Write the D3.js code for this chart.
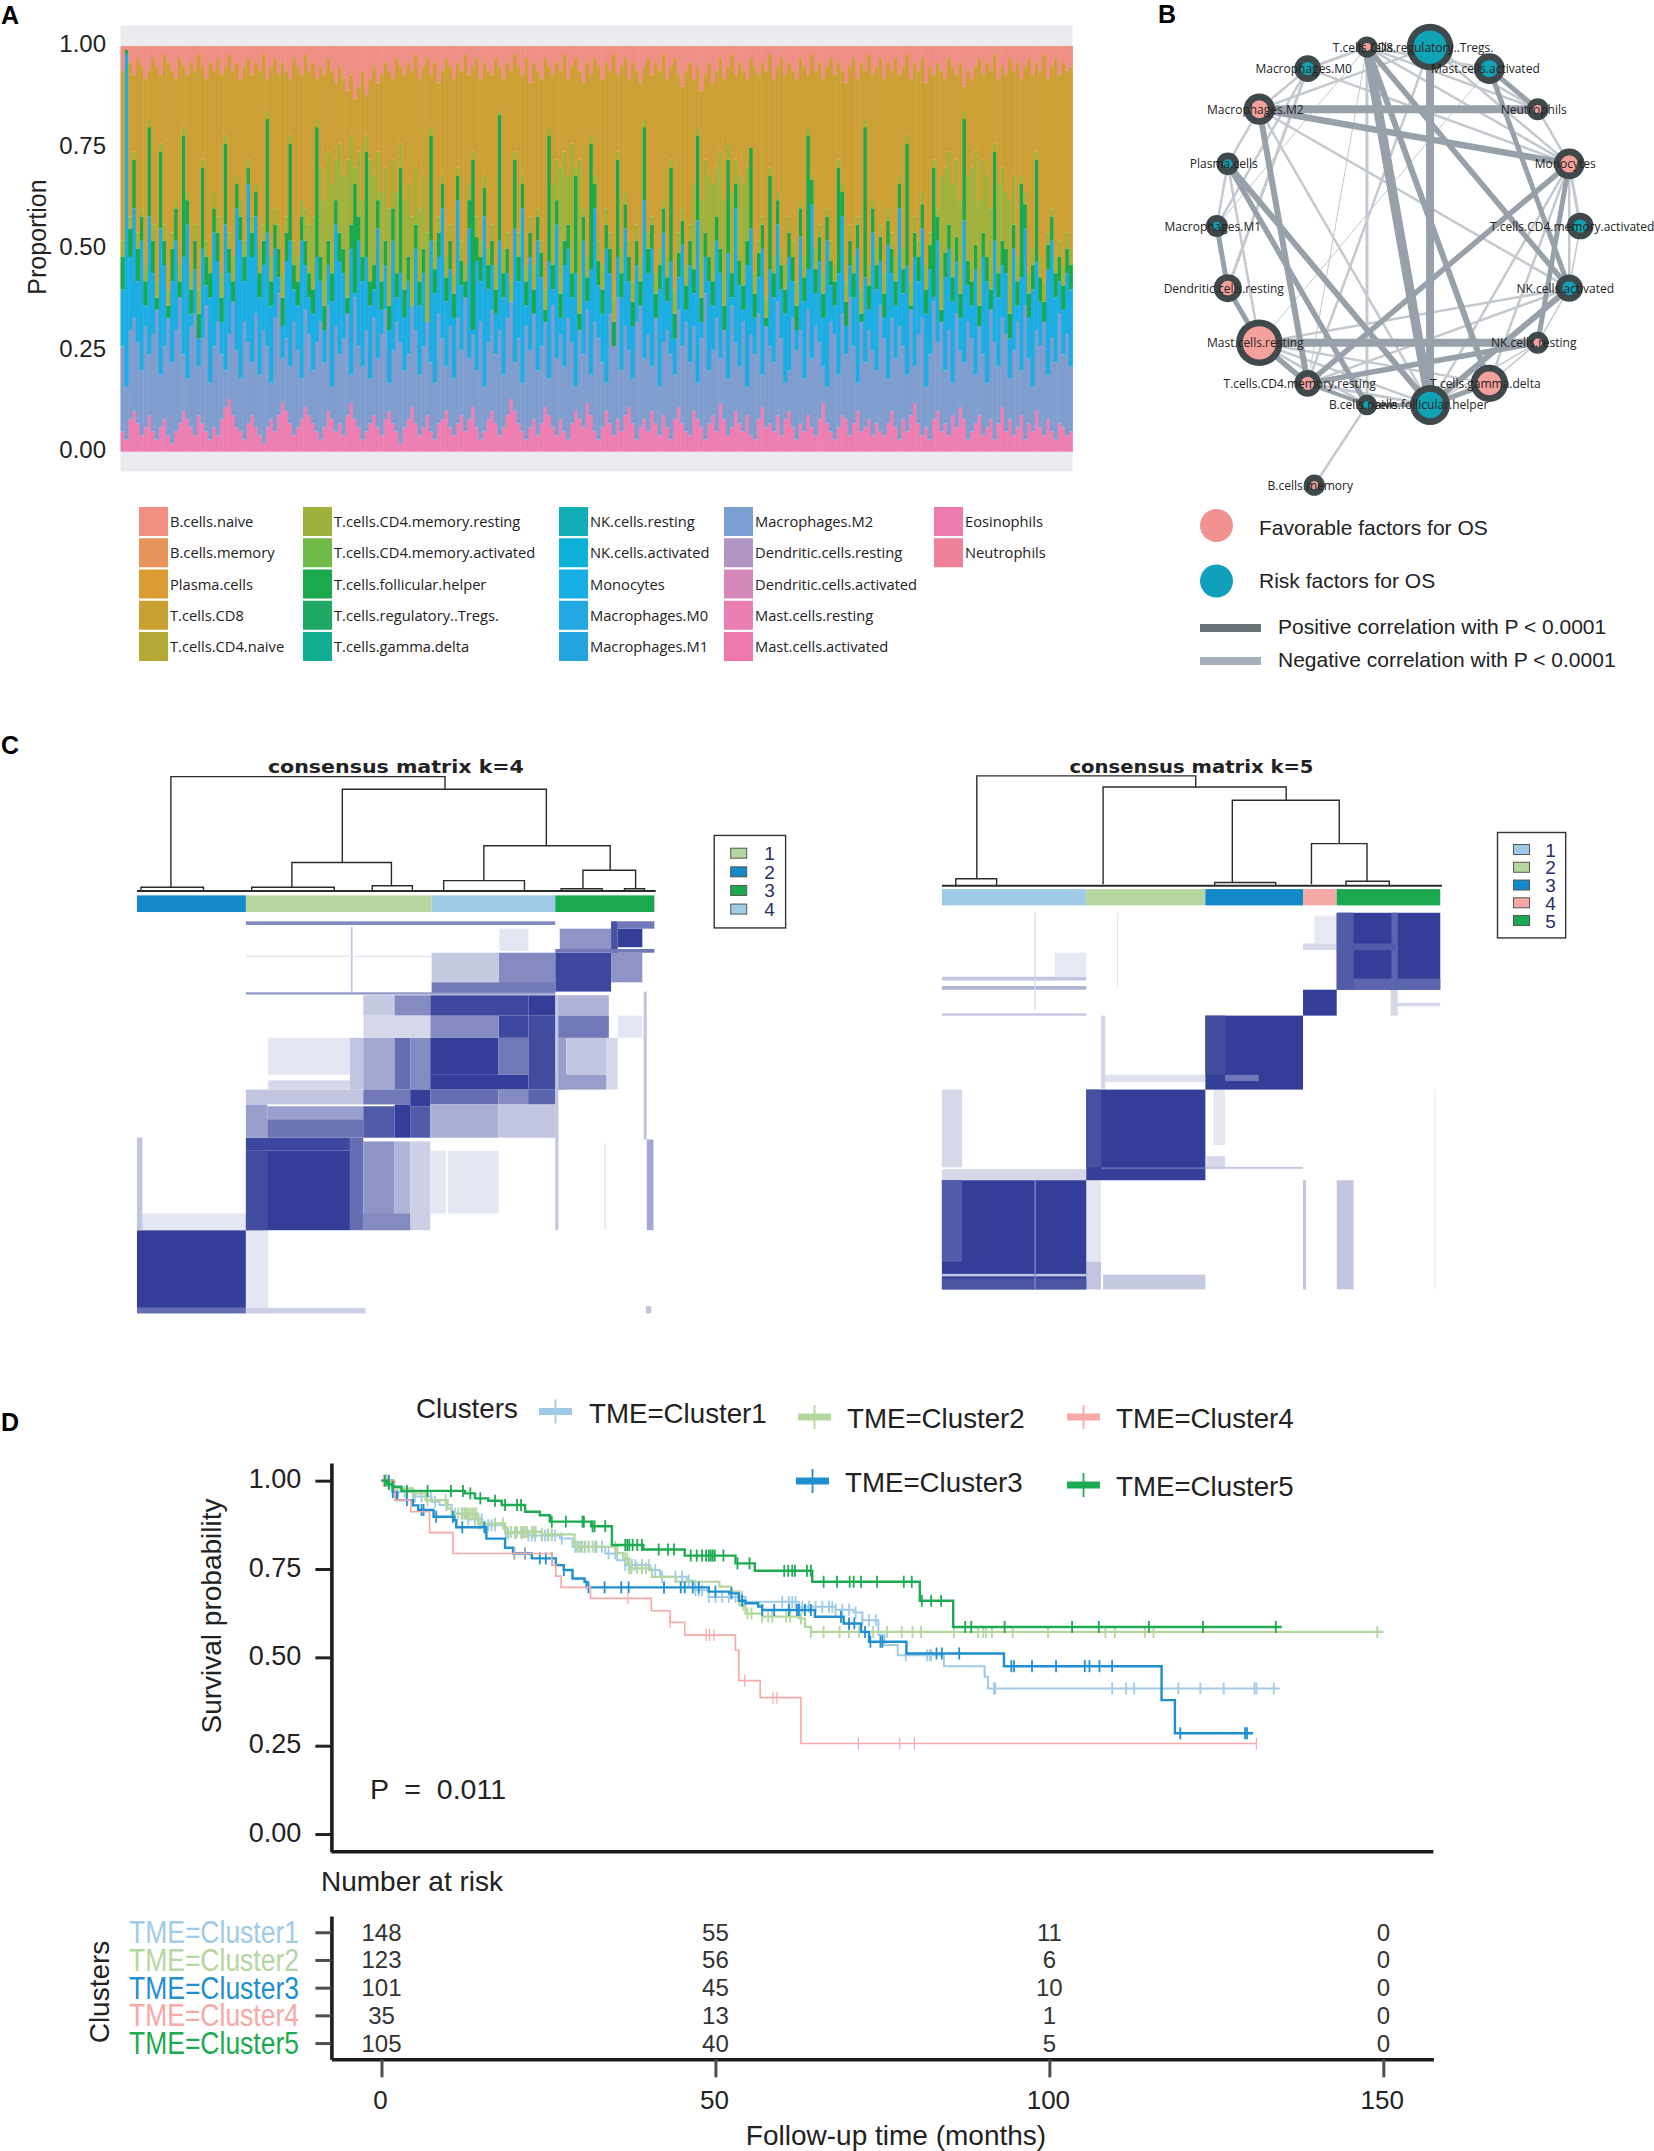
<!DOCTYPE html>
<html>
<head>
<meta charset="utf-8">
<script src="https://cdnjs.cloudflare.com/ajax/libs/d3/7.8.5/d3.min.js"></script>
<style>
body { margin: 0; background: #fff; }
text { font-family: "Liberation Sans", Arial, sans-serif; }
</style>
</head>
<body>
<div id="fig"></div>
<script>
// ---------- panel A: top edge of each colour group per sample (percent)
var topMast = [5,3,8,10,7,4,6,9,5,3,6,8,4,2,5,7,10,8,6,4,9,7,5,3,6,
4,8,11,13,9,6,5,3,7,9,6,4,2,6,8,5,9,12,10,7,4,6,8,11,9,
7,5,3,6,10,8,5,7,4,9,12,8,6,3,5,7,9,6,4,8,10,7,5,2,6,
8,11,7,4,6,9,5,3,7,8,10,6,4,7,9,5,8,11,6,3,5,8,10,7,4,
6,9,13,10,7,5,3,6,8,4,7,11,9,6,4,8,5,3,7,10,8,6,12,9,5,
3,6,10,7,4,8,5,9,11,7,3,6,8,5,10,7,4,9,6,3,8,11,7,5,4,
10,8,6,3,7,9,5,12,8,4,6,10,7,5,9,4,3,8,11,6,7,5,9,4,8,
10,6,3,7,5,9,6,4,8,12,7,5,3,6,9,8,4,7,10,5,6,8,4,7,5,
4,7,10,6,3,8,5,9,12,7,4,6,3,8,10,5,7,4,9,6,11,8,3,5,7,
9,4,6,8,3,7,11,5,8,4,6,9,3,7,5,10,6,4,8,5,3,7,6,4,5];
var topM2 = [26,16,30,33,27,20,31,24,29,35,19,26,33,22,30,38,24,18,31,34,21,28,36,17,26,
32,24,20,29,37,25,18,32,27,22,34,19,30,26,17,33,39,23,28,21,32,25,18,35,29,
20,27,32,22,36,16,31,24,28,34,19,38,26,21,30,18,33,23,29,35,17,25,32,27,20,
24,36,30,19,26,32,22,17,34,28,21,31,18,33,25,38,23,29,20,32,16,27,35,24,30,
19,33,37,22,28,17,31,25,34,20,26,32,18,36,23,29,21,33,27,16,30,24,35,19,32,
28,22,17,34,26,38,20,31,25,18,32,36,23,29,21,33,16,27,30,24,19,35,26,32,22,
31,17,28,39,20,25,33,23,30,18,36,27,21,32,16,29,24,34,19,31,26,22,37,28,17,
20,33,25,30,18,35,23,31,27,21,16,32,29,19,34,24,38,26,17,32,22,30,25,20,36,
28,18,33,23,31,26,19,35,21,29,33,16,24,37,27,32,20,30,17,34,25,22,32,28,19,
31,24,17,35,27,21,33,29,18,25,32,20,36,23,16,30,26,32,19,28,22,34,24,29,21];
var topBlue = [40,98,48,60,42,52,36,58,44,33,55,46,30,42,52,36,48,56,34,45,28,50,41,38,54,
47,32,56,44,36,60,52,42,66,48,58,38,46,54,36,50,43,31,47,52,40,36,52,46,38,
34,48,42,30,46,37,56,47,44,33,50,39,52,42,48,36,40,55,35,46,30,52,38,44,33,
42,28,50,36,44,24,52,39,48,60,37,45,33,62,41,36,55,30,47,42,58,40,46,34,52,
38,44,30,55,42,60,36,48,34,52,43,29,47,40,56,33,46,50,38,44,28,52,37,45,60,
41,34,50,44,26,48,38,55,42,31,46,36,62,44,50,33,40,54,37,47,28,43,51,35,46,
39,57,32,48,42,36,52,44,30,49,38,60,41,35,46,55,33,43,50,27,45,38,56,40,34,
48,42,30,53,37,45,61,39,47,33,52,41,36,44,58,31,46,38,50,28,43,35,54,40,47,
33,51,44,36,60,39,46,30,48,42,55,34,45,38,52,29,43,50,37,47,33,57,41,36,45,
30,48,42,34,52,38,46,44,28,50,36,43,55,33,40,47,37,31,45,52,38,42,35,44,40];
var topGreen = [48,99,55,72,50,58,42,80,52,38,74,52,36,50,60,42,78,62,40,52,34,70,48,44,60,
54,38,76,50,42,66,58,48,70,54,64,44,52,82,42,56,50,38,54,76,46,42,58,52,44,
40,80,48,36,52,44,62,54,50,38,56,66,58,48,74,42,46,62,42,52,36,60,44,70,40,
48,34,56,42,50,30,78,45,54,66,43,52,39,68,47,42,62,72,53,48,65,46,52,40,83,
44,50,36,72,48,66,42,54,40,58,49,35,78,46,62,39,52,56,44,68,34,58,43,76,66,
47,40,56,50,32,72,44,61,48,37,52,42,80,50,56,39,46,60,43,70,34,49,57,41,52,
45,78,38,54,48,42,58,50,36,72,44,66,47,41,52,75,39,49,56,33,68,44,62,46,40,
54,48,36,60,43,78,67,45,53,39,58,47,42,70,64,37,52,44,56,34,80,41,60,46,53,
39,57,50,42,66,45,76,36,54,48,61,40,51,70,58,35,49,56,43,53,39,82,47,42,51,
36,54,48,40,74,44,52,50,34,56,42,66,61,39,46,72,43,37,51,58,44,48,41,50,46];
var topOlive = [52,99,58,74,54,60,46,82,56,42,76,56,40,54,62,46,80,64,44,56,40,72,52,48,64,
58,44,78,54,48,68,62,52,72,58,66,50,56,84,48,60,56,44,58,78,52,48,62,60,56,
58,82,70,62,74,66,72,76,68,72,78,70,74,62,78,72,68,74,64,70,60,72,64,76,62,
66,58,70,60,68,54,80,52,58,68,48,56,44,70,52,46,66,74,58,52,68,50,56,46,84,
50,54,42,74,54,68,46,58,46,60,52,40,80,66,72,70,74,68,76,70,72,60,48,78,68,
52,46,60,54,38,74,50,64,52,42,56,48,82,54,58,44,50,62,48,72,40,54,60,46,56,
66,80,62,72,68,66,70,74,62,76,64,72,68,66,70,54,44,52,58,38,70,48,64,50,46,
58,52,42,62,48,80,68,50,56,44,60,52,46,72,66,42,56,48,58,40,82,46,62,50,56,
44,60,54,48,68,50,78,42,58,52,64,46,54,72,60,68,70,74,66,72,62,84,68,70,74,
62,72,68,60,76,66,70,64,62,68,48,68,64,44,50,74,48,42,54,60,48,52,46,54,50];
var topGold = [94,99,96,93,97,95,92,94,97,95,93,98,96,94,92,97,95,93,96,94,98,95,92,96,94,
97,93,95,98,94,96,92,95,97,93,96,94,98,92,95,97,93,96,94,92,97,95,93,98,94,
96,92,95,93,97,94,91,95,92,89,93,87,90,94,88,92,95,91,93,96,94,92,97,95,93,
96,94,98,92,95,97,93,96,91,94,97,95,92,96,94,98,93,95,97,92,96,94,93,97,95,
92,96,94,98,95,93,97,91,96,94,92,97,95,93,96,94,98,92,95,97,94,91,96,93,97,
95,92,96,94,98,93,95,97,92,96,94,91,95,97,93,96,94,98,92,95,97,93,90,94,96,
92,95,89,93,96,91,94,97,92,95,98,93,96,94,92,97,95,93,96,94,98,92,95,97,93,
96,94,92,97,95,93,98,94,96,92,95,97,93,96,94,91,95,97,92,96,94,98,93,95,97,
92,96,94,97,93,95,98,92,96,94,97,91,95,93,96,94,92,97,95,93,96,90,94,92,95,
97,93,96,94,98,92,95,93,97,94,96,92,95,97,93,96,94,98,92,95,97,93,96,94,95];
var bandKeys = ["mast", "m2", "blue", "green", "olive", "gold", "salmon"];
var bandColors = ["#ee7fb2", "#7f9dcf", "#1cade3", "#1ba950", "#a2b13b", "#cda035", "#ef8f85"];
var propTicks = [0, 0.25, 0.5, 0.75, 1];
var cellTypes = [
  ["B.cells.naive", "B.cells.memory", "Plasma.cells", "T.cells.CD8", "T.cells.CD4.naive"],
  ["T.cells.CD4.memory.resting", "T.cells.CD4.memory.activated", "T.cells.follicular.helper", "T.cells.regulatory..Tregs.", "T.cells.gamma.delta"],
  ["NK.cells.resting", "NK.cells.activated", "Monocytes", "Macrophages.M0", "Macrophages.M1"],
  ["Macrophages.M2", "Dendritic.cells.resting", "Dendritic.cells.activated", "Mast.cells.resting", "Mast.cells.activated"],
  ["Eosinophils", "Neutrophils"]
];
var cellColors = [
  ["#f08e82", "#e8955c", "#da9c33", "#c9a032", "#b5a936"],
  ["#a0b03c", "#70ba48", "#1ba94e", "#1fa965", "#10ae93"],
  ["#12aeb8", "#0db2d9", "#17aee6", "#22a9e2", "#24a4df"],
  ["#7c9fd3", "#b294c4", "#d387ba", "#e97fb3", "#ee78ae"],
  ["#ec7cb0", "#ef8299"]
];

// ---------- panel B: correlation network
var nodeNames = ["T.cells.regulatory..Tregs.", "Mast.cells.activated", "Neutrophils", "Monocytes", "T.cells.CD4.memory.activated",
  "NK.cells.activated", "NK.cells.resting", "T.cells.gamma.delta", "T.cells.follicular.helper", "B.cells.naive",
  "T.cells.CD4.memory.resting", "Mast.cells.resting", "Dendritic.cells.resting", "Macrophages.M1", "Plasma.cells",
  "Macrophages.M2", "Macrophages.M0", "T.cells.CD8", "B.cells.memory"];
var nodeSize = [70, 46, 33, 46, 40, 41, 33, 56, 60, 31, 40, 70, 42, 33, 34, 47, 40, 32, 32];
var nodeRisk = [1, 1, 0, 0, 1, 1, 0, 0, 1, 1, 0, 0, 0, 1, 1, 0, 1, 0, 0];
var nodeSlot = [0, 1, 2, 3, 4, 5, 6, 7, 8, 9, 10, 11, 12, 13, 14, 15, 16, 17, 9.4];
var nodeOrbit = [1, 1, 1, 1, 1, 1, 1, 1, 1, 1, 1, 1, 1, 1, 1, 1, 1, 1, 1.5];
var posEdges = [[17,8,9.5],[0,8,8],[15,2,8],[15,3,6.5],[15,10,6],[14,8,6],[14,9,5.5],[11,6,8],[11,10,5.5],[10,3,5.5],[10,6,5.5],
  [8,5,6],[7,17,6],[17,5,5.5],[1,2,5],[1,5,5],[3,6,5],[13,12,5],[12,11,5],[7,8,5],[10,9,4],[8,9,4]];
var negEdges = [[17,16,3],[17,2,2.5],[17,3,2.5],[17,9,3],[17,13,1],[17,10,1],[0,15,2.5],[0,10,2.5],[16,3,2.5],[16,12,3],[16,13,2.5],[16,15,2.5],
  [15,14,2.5],[15,8,2.5],[15,5,2.5],[14,13,2.5],[1,11,1],[2,3,2.5],[3,5,2.5],[3,4,3],[3,8,2.5],[3,7,2.5],[4,5,1.5],[6,5,1.5],[6,7,1.5],
  [5,11,2.5],[5,10,2.5],[11,8,2.5],[11,7,2.5],[11,9,2.5],[18,9,2.5],[0,2,2.5],[0,3,2.5],[1,17,2.5],[10,8,3],[6,8,1.5],[14,11,2.5]];

// ---------- panel C: consensus matrices, blocks are [col0, col1, row0, row1, consensus]
var k4Blocks = [
  [38,282,1325,1535,1],[38,282,1280,1325,.13],[282,332,1325,1550,.13],[38,50,1075,1325,.3],[38,282,1535,1550,.75],[282,550,1535,1550,.25],
  [282,515,1110,1325,1],[282,330,1110,1325,.92],[515,545,1075,1325,.75],[282,515,1075,1110,.95],[545,615,1085,1325,.55],[615,650,1085,1325,.38],[650,695,1085,1325,.25],
  [545,650,1280,1325,.6],[695,730,1110,1280,.13],[735,848,1110,1280,.13],[282,330,985,1075,.5],[330,545,1025,1075,.72],[330,545,990,1025,.5],[545,615,990,1075,.85],[615,650,985,1075,1],[650,695,990,1075,.85],
  [282,545,945,985,.3],[332,515,805,905,.13],[332,515,920,945,.2],[515,545,805,945,.3],[545,615,805,945,.45],[615,650,805,945,.75],[650,695,805,945,.6],[650,695,945,990,1],[545,650,945,985,.7],
  [695,848,805,905,1],[695,915,905,945,1],[848,915,805,905,.7],[915,975,745,945,.93],[975,1000,805,945,.5],[1000,1090,805,905,.3],[975,1090,905,945,.5],[1090,1115,805,945,.2],
  [695,848,945,985,.75],[848,975,945,985,.6],[915,975,945,985,.8],[695,848,985,1075,.42],[848,975,985,1075,.3],[848,915,745,805,.95],[695,848,745,805,.6],
  [695,915,690,745,.95],[915,975,690,745,1],[545,615,690,745,.28],[615,695,690,745,.6],[545,695,745,805,.2],[975,1095,690,745,.4],[975,1095,745,805,.7],[1115,1170,745,805,.13],
  [975,1100,575,680,.95],[848,975,575,680,.6],[698,848,575,655,.28],[698,975,655,685,.7],[1100,1170,575,655,.55],[985,1100,510,565,.55],[1115,1170,510,560,1],
  [1115,1197,490,510,.7],[1100,1115,490,575,.9],[850,915,510,570,.13],[282,975,490,500,.6],[282,975,682,688,.55],[975,1197,565,575,.7],
  [975,982,690,1325,.3],[1180,1195,1080,1325,.45],[1173,1180,680,1080,.3],[517,521,505,680,.3],[282,700,583,586,.15],[1085,1088,1090,1325,.15],[1178,1190,1530,1550,.3]
];
var k5Blocks = [
  [52,100,945,1155,.2],[52,395,1160,1190,.2],[395,430,1190,1410,.13],[395,430,1410,1485,.3],[435,678,1445,1485,.28],[430,678,905,925,.15],[430,440,745,945,.2],
  [697,725,945,1095,.13],[680,725,1125,1160,.2],[990,1030,1190,1485,.3],[910,917,1190,1485,.3],[52,395,640,650,.3],[52,395,665,675,.4],[52,395,739,745,.3],
  [320,395,575,640,.12],[937,990,475,550,.12],[910,990,550,568,.2],[1118,1135,675,745,.2],[1135,1236,710,720,.2],[272,275,467,730,.2],[468,470,467,670,.15],
  [678,910,1154,1159,.3],[1222,1224,945,1485,.15],
  [990,1236,467,675,1],[990,1030,467,675,.85],[1030,1236,645,675,.8],[1120,1135,467,675,.8],[1030,1130,550,568,.85],
  [910,990,675,745,1],[678,910,745,945,1],[678,725,745,905,.92],[725,805,905,922,.7],
  [395,678,945,1190,1],[395,430,945,1155,.9],[430,678,1155,1160,.75],
  [52,395,1190,1485,1],[52,100,1190,1410,.85],[52,395,1443,1450,.3],[52,395,1455,1485,.88],[272,275,1190,1485,.6]
];
var k4Brackets = [[114,728,99,398,133],[498,955,133,331,286],[385,608,331,398,394],[815,1098,286,380,352],[47,187,398,408,408],[295,480,398,408,408],
  [565,655,394,408,408],[725,906,380,408,408],[1037,1155,352,402,402],[988,1080,402,408,408],[1130,1175,402,408,408]];
var k5Brackets = [[135,655,97,375,127],[435,870,127,390,163],[742,996,163,385,280],[930,1062,280,390,382],[85,182,375,393,393],[700,845,385,394,394],[1012,1115,382,394,394]];
var k4Bars = [[38,282,"#1289c9"],[282,698,"#b6d6a0"],[698,975,"#9fcbe6"],[975,1197,"#1aa94f"]];
var k5Bars = [[52,395,"#9fcbe6"],[395,678,"#b6d6a0"],[678,910,"#1289c9"],[910,990,"#f4a8a3"],[990,1236,"#1aa94f"]];
var k4Legend = ["#b6d6a0", "#1289c9", "#1aa94f", "#9fcbe6"];
var k5Legend = ["#9fcbe6", "#b6d6a0", "#1289c9", "#f4a8a3", "#1aa94f"];

// ---------- panel D: survival curves, [months, survival]
var clusterNames = ["TME=Cluster1", "TME=Cluster2", "TME=Cluster3", "TME=Cluster4", "TME=Cluster5"];
var clusterColors = ["#9fcbe8", "#b4d69f", "#1f8fcf", "#f6a9a6", "#1cab50"];
var clusterWidths = [2, 2.2, 2.4, 1.6, 2.4];
var curve1 = [[0,1],[1,.985],[2,.968],[4.7,.955],[7.5,.94],[8.7,.931],[10.5,.907],[13,.89],[15.1,.874],[18.5,.851],[22,.845],[26.7,.836],[28.6,.813],[33.5,.794],[35.3,.775],[36.5,.761],[40.2,.747],[41.7,.728],[45.7,.717],[46.9,.69],[49,.671],[54.5,.657],[62.5,.643],[68,.635],[70.7,.627],[72,.605],[74.4,.563],[75.3,.535],[77.3,.506],[84.2,.475],[90.3,.445],[90.8,.412],[134.5,.412]];
var curve2 = [[0,1],[1.7,.978],[4.7,.964],[6.6,.945],[9.9,.921],[10.5,.907],[14.5,.879],[18.5,.855],[24,.848],[28.9,.813],[35.3,.795],[36.2,.78],[37.1,.752],[40.5,.728],[44.1,.714],[50.6,.7],[52.4,.686],[53.6,.648],[54.5,.624],[57,.615],[62.5,.61],[63.4,.586],[64.3,.572],[150,.572]];
var curve3 = [[0,1],[1.7,.968],[2.3,.945],[4.7,.93],[5.5,.917],[7.8,.898],[10.9,.888],[11.2,.868],[15.7,.836],[18.5,.81],[19.7,.794],[22.5,.78],[26.1,.761],[27.3,.747],[28.6,.723],[30.4,.714],[30.7,.698],[49,.686],[52.1,.681],[53.5,.66],[54.5,.653],[56.4,.644],[57,.634],[64.9,.615],[69.2,.596],[71.8,.572],[73,.544],[78.6,.511],[93.2,.475],[116.8,.379],[118.8,.285],[130.5,.285]];
var curve4 = [[0,1],[2,.945],[4.4,.912],[7.2,.853],[10.7,.794],[25.5,.761],[26.1,.73],[26.9,.698],[31.3,.667],[40.4,.632],[43.2,.599],[45.4,.563],[53,.52],[53.5,.434],[56.7,.386],[62.8,.256],[131,.256]];
var curve5 = [[0,1],[.8,.99],[1.7,.983],[3,.971],[12.5,.964],[14,.95],[16,.943],[18,.931],[21.5,.912],[23.7,.902],[25.2,.884],[31.4,.871],[34.5,.818],[39.2,.805],[45.4,.788],[53,.766],[55.9,.745],[64.5,.714],[80.6,.66],[85.6,.586],[134.8,.586]];
var censor1 = [.8,1.5,2.5,3.5,5,6,6.8,7.4,8,9.7,11,12,12.5,13,14,15,16,16.5,17,18.6,19,20,21,22,22.5,23,24,24.5,25,25.5,26,27,29,29.5,30,30.5,31,32,33,34,35,36.5,37,37.5,38,39,40,41,42,44,45,46,47,47.5,48,49,50,51,52,53,54,60,61,61.5,62,63,64,65,66,67,67.5,68,69,70,71,72,73,74,78.5,81.7,82.1,82.3,91.7,91.9,109.4,111.5,112.7,119.3,122.6,126.1,130.7,131,133.6];
var censor2 = [4.7,6.9,9.6,11.5,12.1,12.4,12.7,13,13.3,13.6,13.9,14.2,14.5,14.8,17,18.2,18.8,19.4,20,20.3,20.9,21.2,21.5,21.8,22.5,22.8,23.1,24,24.9,25.5,29.2,29.8,30.4,31,31.6,32.2,35,36.5,36.8,37.1,37.4,38.3,39,39.6,54.2,54.8,55.4,57,57.9,58.5,60.6,61.2,62.8,64.3,66.2,68.6,70,71.5,73.6,75.7,77.9,79.5,80.8,85.7,89.3,90.1,90.5,91.4,94.5,99.8,108.4,109.8,114.3,115.6,149.1];
var censor3 = [1.1,1.7,3.8,6,6.3,8.2,10.7,12.1,15.4,19.9,21.5,23.7,24.6,25.5,27.3,31,33.4,35.9,37,42.3,44.8,45.4,46.6,47.5,50,52.4,54,57,58.8,61,62.2,62.5,63.4,64.3,68.8,70,70.8,72.4,73.2,74.7,75,83.1,83.9,86.5,94.3,94.7,97.4,101,105.3,106,107.5,109.4,119.6,129.3,129.6];
var censor4 = [.3,.7,19.9,21.5,36.9,43.2,48.6,49.1,49.8,54.4,58.6,59.2,71.4,77.6,79.8,131];
var censor5 = [.5,1.1,1.7,3.8,6.9,10.4,12.2,13.3,14.8,17,18.5,20.3,20.9,25.5,27.6,30.1,30.3,31.6,31.9,33.5,36.5,36.8,37.1,37.6,38.3,39,41.5,42.9,43.8,46.3,47.2,48,48.6,49,49.3,49.6,49.9,51.2,53.3,55.1,60.3,60.9,61.5,61.9,63.7,64.3,66.2,68.2,70.1,70.7,71.8,74.2,78.2,79.4,80.9,82.3,83.8,87.4,88.3,93.3,103.4,107.4,114.9,123,133.9];
var survTicks = [0, 0.25, 0.5, 0.75, 1];
var timeTicks = [0, 50, 100, 150];
var riskCounts = [[148,55,11,0],[123,56,6,0],[101,45,10,0],[35,13,1,0],[105,40,5,0]];

var svg = d3.select("#fig").append("svg").attr("width", 1654).attr("height", 2151);

function panelLabel(txt, x, y) {
  svg.append("text").attr("x", x).attr("y", y).attr("font-size", 25).attr("font-weight", "bold").text(txt);
}
panelLabel("A", 1, 24);
panelLabel("B", 1158, 23);
panelLabel("C", 1, 754);
panelLabel("D", 1, 1431);

// ---------- A
var pa = svg.append("g");
var rows = topMast.map(function(d, i) {
  var edges = [topMast[i], topM2[i], topBlue[i], topGreen[i], topOlive[i], topGold[i], 100];
  var row = {}, prev = 0;
  bandKeys.forEach(function(k, j) {
    var e = Math.max(prev, edges[j]);
    row[k] = (e - prev) / 100;
    prev = e;
  });
  return row;
});
var xA = d3.scaleBand().domain(d3.range(rows.length)).range([120.5, 1072.5]);
var yA = d3.scaleLinear().domain([0, 1]).range([451.7, 46]);
pa.append("rect").attr("x", 120.5).attr("y", 25.5).attr("width", 952).attr("height", 446).attr("fill", "#e9ebef");
var stacked = d3.stack().keys(bandKeys)(rows);
pa.selectAll("g.band").data(stacked).enter().append("g").attr("class", "band")
  .attr("fill", function(d, i) { return bandColors[i]; })
  .selectAll("rect").data(function(d) { return d; }).enter().append("rect")
  .attr("x", function(d, i) { return xA(i); })
  .attr("width", xA.bandwidth() + 0.4)
  .attr("y", function(d) { return yA(d[1]); })
  .attr("height", function(d) { return yA(d[0]) - yA(d[1]); });
var axA = pa.append("g").attr("transform", "translate(115,0)")
  .call(d3.axisLeft(yA).tickValues(propTicks).tickFormat(d3.format(".2f")).tickSize(0).tickPadding(9));
axA.select(".domain").remove();
axA.selectAll("text").attr("font-size", 24).attr("fill", "#222").attr("dy", "0.24em");
pa.append("text").attr("transform", "translate(46,237) rotate(-90)").attr("text-anchor", "middle")
  .attr("font-size", 25).attr("fill", "#222").text("Proportion");

var legColX = d3.scaleOrdinal().domain(d3.range(5)).range([139, 303, 559, 724, 934]);
var legRowY = d3.scaleLinear().domain([0, 4]).range([507, 632]);
cellTypes.forEach(function(col, c) {
  col.forEach(function(name, r) {
    pa.append("rect").attr("x", legColX(c)).attr("y", legRowY(r)).attr("width", 29).attr("height", 29)
      .attr("fill", cellColors[c][r]);
    pa.append("text").attr("x", legColX(c) + 31).attr("y", legRowY(r) + 20).attr("font-size", 14.7)
      .style("font-family", "'Open Sans'").attr("fill", "#222").text(name);
  });
});

// ---------- B
var pb = svg.append("g");
var centreB = [1398.5, 226];
var slotAngle = d3.scaleLinear().domain([0, 18]).range([Math.PI / 18, Math.PI * 2 + Math.PI / 18]);
var orbitR = d3.scaleLinear().domain([0, 1]).range([0, 181.7]);
var sizeR = d3.scaleLinear().domain([0, 70]).range([0, 23.3]);
var nodePos = nodeNames.map(function(n, i) {
  var p = d3.pointRadial(slotAngle(nodeSlot[i]), orbitR(nodeOrbit[i]));
  return [p[0] + centreB[0], p[1] + centreB[1]];
});
function drawEdges(list, color) {
  pb.append("g").selectAll("line").data(list).enter().append("line")
    .attr("x1", function(d) { return nodePos[d[0]][0]; })
    .attr("y1", function(d) { return nodePos[d[0]][1]; })
    .attr("x2", function(d) { return nodePos[d[1]][0]; })
    .attr("y2", function(d) { return nodePos[d[1]][1]; })
    .attr("stroke", color)
    .attr("stroke-width", function(d) { return d[2]; });
}
drawEdges(negEdges, "#c4c8cf");
drawEdges(posEdges, "#98a1a9");
var nodeG = pb.append("g").selectAll("g").data(nodeNames).enter().append("g")
  .attr("transform", function(d, i) { return "translate(" + nodePos[i] + ")"; });
nodeG.append("circle").attr("r", function(d, i) { return sizeR(nodeSize[i]); }).attr("fill", "#3f484a");
nodeG.append("circle").attr("r", function(d, i) { return sizeR(nodeSize[i]) - 6.7; })
  .attr("fill", function(d, i) { return nodeRisk[i] ? "#0fa3b5" : "#f4a19c"; });
nodeG.append("text").attr("x", function(d) { return d.indexOf("memory.") > 0 ? -8 : -4; }).attr("y", 4.5).attr("text-anchor", "middle").attr("font-size", 12)
  .style("font-family", "'Open Sans'").attr("fill", "#222").text(function(d) { return d; });

var keyY = d3.scalePoint().domain(["Favorable factors for OS", "Risk factors for OS"]).range([525.5, 581]);
pb.selectAll("circle.key").data(keyY.domain()).enter().append("circle").attr("class", "key")
  .attr("cx", 1216.5).attr("cy", function(d) { return keyY(d); }).attr("r", 16.5)
  .attr("fill", function(d, i) { return i ? "#109fbd" : "#f29290"; });
pb.selectAll("text.key").data(keyY.domain()).enter().append("text").attr("class", "key")
  .attr("x", 1259).attr("y", function(d, i) { return keyY(d) + (i ? 6.5 : 9.5); }).attr("font-size", 21).attr("fill", "#222").text(function(d) { return d; });
var corrY = d3.scalePoint().domain(["Positive correlation with P < 0.0001", "Negative correlation with P < 0.0001"]).range([628, 661]);
pb.selectAll("rect.key").data(corrY.domain()).enter().append("rect").attr("class", "key")
  .attr("x", 1200).attr("width", 61).attr("height", 8).attr("y", function(d) { return corrY(d) - 4; })
  .attr("fill", function(d, i) { return i ? "#a8b0bb" : "#6a7478"; });
pb.selectAll("text.corr").data(corrY.domain()).enter().append("text").attr("class", "corr")
  .attr("x", 1278).attr("y", function(d) { return corrY(d) + 6; }).attr("font-size", 21).attr("fill", "#222").text(function(d) { return d; });

// ---------- C
var heatColor = d3.scaleLinear().domain([0, 1]).range(["#ffffff", "#323e98"]);
function consensus(opts) {
  var g = svg.append("g");
  var x = d3.scaleLinear().domain([0, 1568]).range(opts.xr);
  var y = d3.scaleLinear().domain([0, 1568]).range([740, 740 + 1568 / 2.703]);
  g.selectAll("rect.cell").data(opts.blocks).enter().append("rect").attr("class", "cell")
    .attr("x", function(d) { return x(d[0]); }).attr("width", function(d) { return x(d[1]) - x(d[0]); })
    .attr("y", function(d) { return y(d[2]); }).attr("height", function(d) { return y(d[3]) - y(d[2]); })
    .attr("fill", function(d) { return heatColor(d[4]); });
  g.selectAll("rect.bar").data(opts.bars).enter().append("rect").attr("class", "bar")
    .attr("x", function(d) { return x(d[0]); }).attr("width", function(d) { return x(d[1]) - x(d[0]); })
    .attr("y", y(opts.barY[0])).attr("height", y(opts.barY[1]) - y(opts.barY[0]))
    .attr("fill", function(d) { return d[2]; });
  var path = d3.path();
  opts.brackets.forEach(function(b) {
    path.moveTo(x(b[0]), y(b[3]));
    path.lineTo(x(b[0]), y(b[2]));
    path.lineTo(x(b[1]), y(b[2]));
    path.lineTo(x(b[1]), y(b[4]));
  });
  g.append("path").attr("d", path.toString()).attr("fill", "none").attr("stroke", "#2b2b2b").attr("stroke-width", 1.4);
  g.append("line").attr("x1", x(opts.base[0])).attr("x2", x(opts.base[1])).attr("y1", y(opts.base[2])).attr("y2", y(opts.base[2]))
    .attr("stroke", "#2b2b2b").attr("stroke-width", 2);
  g.append("text").attr("x", x(opts.titleX)).attr("y", 773).attr("text-anchor", "middle").attr("font-size", 17)
    .style("font-family", "'DejaVu Sans'").attr("font-weight", "bold").attr("fill", "#222")
    .attr("textLength", opts.titleW).attr("lengthAdjust", "spacingAndGlyphs").text(opts.title);
  var lg = opts.legend;
  g.append("rect").attr("x", x(lg.box[0])).attr("y", y(lg.box[2])).attr("width", x(lg.box[1]) - x(lg.box[0]))
    .attr("height", y(lg.box[3]) - y(lg.box[2])).attr("fill", "#fff").attr("stroke", "#333").attr("stroke-width", 1.4);
  var rowY = d3.scaleLinear().domain([0, lg.colors.length - 1]).range(lg.rows);
  lg.colors.forEach(function(c, i) {
    g.append("rect").attr("x", x(lg.sw)).attr("width", 16).attr("y", y(rowY(i)) - 5).attr("height", 10)
      .attr("fill", c).attr("stroke", "#555").attr("stroke-width", 1);
    g.append("text").attr("x", x(lg.tx)).attr("y", y(rowY(i)) + 7).attr("text-anchor", "middle").attr("font-size", 19)
      .attr("fill", "#2a2f66").text(i + 1);
  });
}
consensus({ xr: [120, 120 + 700], blocks: k4Blocks, bars: k4Bars, barY: [420, 465], brackets: k4Brackets, base: [38, 1200, 408],
  title: "consensus matrix k=4", titleX: 618, titleW: 256,
  legend: { box: [1331, 1491, 258, 508], colors: k4Legend, rows: [306, 457], sw: 1368, tx: 1455 } });
consensus({ xr: [920, 920 + 660], blocks: k5Blocks, bars: k5Bars, barY: [403, 447], brackets: k5Brackets, base: [52, 1240, 394],
  title: "consensus matrix k=5", titleX: 645, titleW: 244,
  legend: { box: [1372, 1534, 250, 535], colors: k5Legend, rows: [296, 488], sw: 1410, tx: 1498 } });

// ---------- D
var pd = svg.append("g");
var curves = [curve1, curve2, curve3, curve4, curve5];
var censors = [censor1, censor2, censor3, censor4, censor5];
var xT = d3.scaleLinear().domain([-7.5, 157.5]).range([331.4, 1433.4]);
var yS = d3.scaleLinear().domain([-0.05, 1.05]).range([1851.7, 1463]);
var stepLine = d3.line().curve(d3.curveStepAfter).x(function(d) { return xT(d[0]); }).y(function(d) { return yS(d[1]); });
var bis = d3.bisector(function(d) { return d[0]; }).right;

curves.forEach(function(cv, i) {
  pd.append("path").attr("d", stepLine(cv)).attr("fill", "none")
    .attr("stroke", clusterColors[i]).attr("stroke-width", clusterWidths[i]);
  pd.append("g").selectAll("line").data(censors[i]).enter().append("line")
    .attr("x1", function(t) { return xT(t); }).attr("x2", function(t) { return xT(t); })
    .attr("y1", function(t) { return yS(cv[bis(cv, t) - 1][1]) - 6; })
    .attr("y2", function(t) { return yS(cv[bis(cv, t) - 1][1]) + 6; })
    .attr("stroke", clusterColors[i]).attr("stroke-width", i == 3 ? 1.2 : 1.8);
});

function styleAxis(g, tickColor) {
  g.select(".domain").attr("stroke", "#1d1d1d").attr("stroke-width", 3.6);
  g.selectAll(".tick line").attr("stroke", tickColor).attr("stroke-width", 3);
  g.selectAll("text").attr("fill", "#222");
}
var axS = pd.append("g").attr("transform", "translate(331.4,0)")
  .call(d3.axisLeft(yS).tickValues(survTicks).tickFormat(d3.format(".2f")).tickSize(16).tickSizeOuter(0).tickPadding(14));
styleAxis(axS, "#222");
axS.selectAll("text").attr("font-size", 27).attr("dy", "0.26em");
pd.append("line").attr("x1", xT.range()[0]).attr("x2", xT.range()[1]).attr("y1", 1851.7).attr("y2", 1851.7).attr("stroke", "#1d1d1d").attr("stroke-width", 3.6);
pd.append("text").attr("transform", "translate(221,1616) rotate(-90)").attr("text-anchor", "middle").attr("font-size", 28).attr("fill", "#222").text("Survival probability");
pd.append("text").attr("x", 370).attr("y", 1799).attr("font-size", 28.5).attr("fill", "#222").attr("xml:space", "preserve").style("white-space", "pre").text("P  =  0.011");
pd.append("text").attr("x", 321).attr("y", 1891).attr("font-size", 28).attr("fill", "#222").text("Number at risk");

// legend above the curves
var legendSlots = [[539, 1411.5], [798, 1417], [796, 1481], [1067, 1417], [1067, 1485]];
pd.append("text").attr("x", 416).attr("y", 1418).attr("font-size", 27.8).attr("fill", "#222").text("Clusters");
clusterNames.forEach(function(name, i) {
  var s = legendSlots[i];
  pd.append("rect").attr("x", s[0]).attr("y", s[1] - 3.5).attr("width", 33).attr("height", 7).attr("fill", clusterColors[i]);
  pd.append("line").attr("x1", s[0] + 16.5).attr("x2", s[0] + 16.5).attr("y1", s[1] - 12).attr("y2", s[1] + 12)
    .attr("stroke", clusterColors[i]).attr("stroke-width", 1.8);
  pd.append("text").attr("x", s[0] + (i == 0 ? 50 : 49)).attr("y", s[1] + 11).attr("font-size", 27.7).attr("fill", "#222").text(name);
});

// risk table
var yR = d3.scalePoint().domain(clusterNames).range([1916, 2059.3]).padding(0.587);
var axR = pd.append("g").attr("transform", "translate(331.4,0)")
  .call(d3.axisLeft(yR).tickSize(16).tickSizeOuter(0).tickFormat(""));
styleAxis(axR, "#4a5052");
var axT = pd.append("g").attr("transform", "translate(0,2059.3)")
  .call(d3.axisBottom(xT).tickValues(timeTicks).tickSize(18).tickSizeOuter(0).tickPadding(13));
styleAxis(axT, "#4a5052");
axT.selectAll("text").attr("font-size", 26).attr("dx", -1.5);
clusterNames.forEach(function(name, i) {
  pd.append("text").attr("x", 129).attr("y", yR(name) + 11).attr("font-size", 31).attr("fill", clusterColors[i])
    .attr("textLength", 170).attr("lengthAdjust", "spacingAndGlyphs").text(name);
  riskCounts[i].forEach(function(n, j) {
    pd.append("text").attr("x", xT(timeTicks[j])).attr("y", yR(name) + 8.5).attr("text-anchor", "middle")
      .attr("font-size", 24).attr("fill", "#333").text(n);
  });
});
pd.append("text").attr("transform", "translate(109,1992) rotate(-90)").attr("text-anchor", "middle").attr("font-size", 28).attr("fill", "#222").text("Clusters");
pd.append("text").attr("x", 896).attr("y", 2145).attr("text-anchor", "middle").attr("font-size", 28).attr("fill", "#222").text("Follow-up time (months)");
</script>
</body>
</html>
